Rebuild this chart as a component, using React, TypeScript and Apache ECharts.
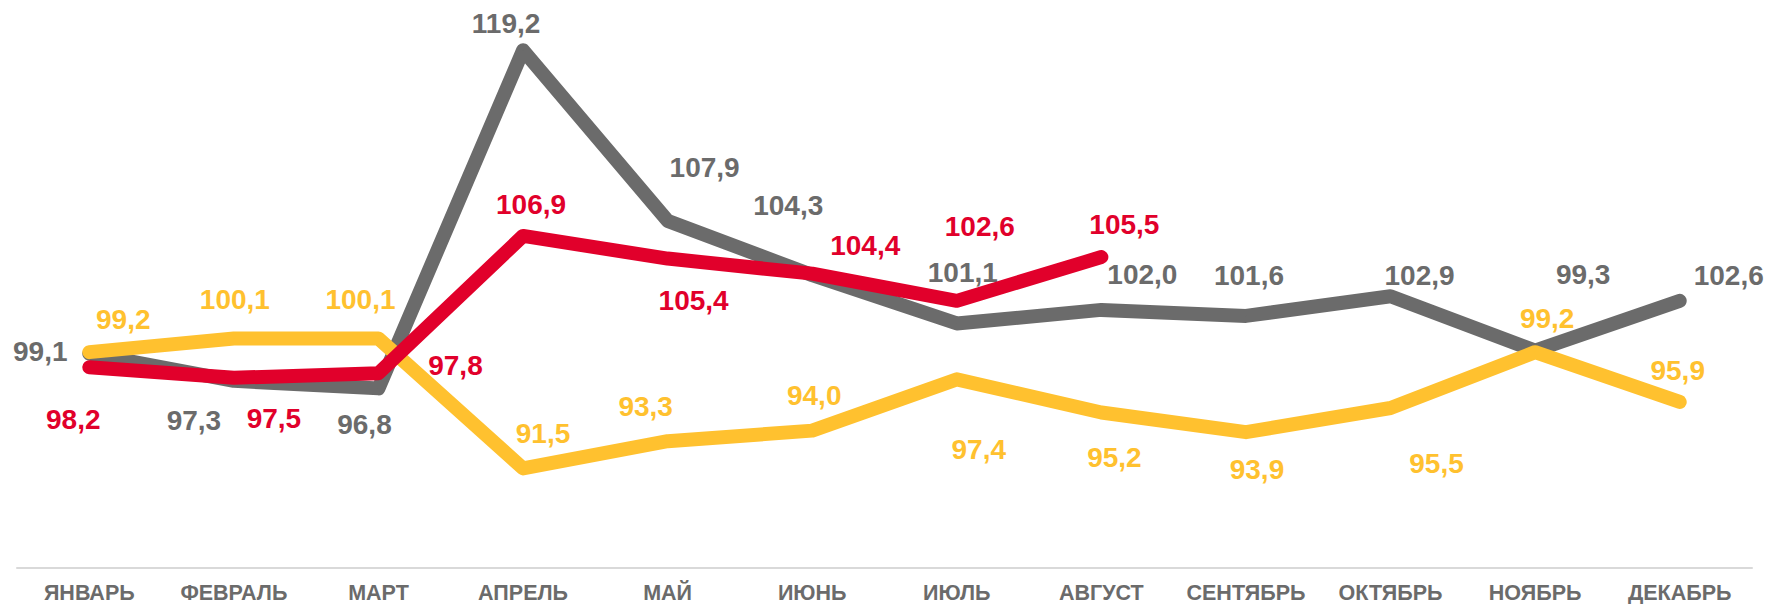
import React, { useEffect, useRef } from "react";
import * as echarts from "echarts";

const categories = ["ЯНВАРЬ", "ФЕВРАЛЬ", "МАРТ", "АПРЕЛЬ", "МАЙ", "ИЮНЬ", "ИЮЛЬ", "АВГУСТ", "СЕНТЯБРЬ", "ОКТЯБРЬ", "НОЯБРЬ", "ДЕКАБРЬ"];
const grayValues = [99.1, 97.3, 96.8, 119.2, 107.9, 104.3, 101.1, 102.0, 101.6, 102.9, 99.3, 102.6];
const yellowValues = [99.2, 100.1, 100.1, 91.5, 93.3, 94.0, 97.4, 95.2, 93.9, 95.5, 99.2, 95.9];
const redValues = [98.2, 97.5, 97.8, 106.9, 105.4, 104.4, 102.6, 105.5];

// label offsets (px) relative to each point
const grayOffsets = [[-49, -2], [-40, 40], [-14, 36], [-17, -27], [37, -53], [-24, -70], [6, -51], [41, -35], [3, -40], [29, -21], [48, -76], [49, -25]];
const yellowOffsets = [[34, -33], [1, -39], [-18, -39], [20, -35], [-22, -35], [2, -35], [22, 70], [13, 45], [11, 37], [46, 55], [12, -34], [-2, -31]];
const redOffsets = [[-16, 52], [40, 41], [77, -8], [8, -31], [26, 42], [53, -28], [23, -74], [23, -33]];

const GRAY = "#6b6b6b";
const YELLOW = "#ffc12f";
const RED = "#e1002b";

const fmt = (v: number) => v.toFixed(1).replace(".", ",");

function makeSeries(name: string, values: number[], offsets: number[][], color: string, z: number) {
  return {
    name,
    type: "line",
    z,
    symbol: "circle",
    symbolSize: 1,
    itemStyle: { color },
    lineStyle: { color, width: 14, cap: "round", join: "round" },
    data: values.map((v, i) => ({
      value: v,
      label: { offset: offsets[i] },
    })),
    label: {
      show: true,
      position: "inside",
      align: "center",
      verticalAlign: "middle",
      color,
      fontFamily: "Liberation Sans, Arial, sans-serif",
      fontWeight: "bold",
      fontSize: 28,
      formatter: (p: any) => fmt(p.value),
    },
  };
}

export default function App() {
  const ref = useRef<HTMLDivElement>(null);
  useEffect(() => {
    if (!ref.current) return;
    const chart = echarts.init(ref.current, null, { renderer: "svg" });
    chart.setOption({
      animation: false,
      backgroundColor: "#ffffff",
      grid: { left: 17, right: 20, top: 8, bottom: 36, containLabel: false },
      xAxis: {
        type: "category",
        data: categories,
        boundaryGap: true,
        axisLine: { show: true, lineStyle: { color: "#d9d9d9", width: 2 } },
        axisTick: { show: false },
        axisLabel: {
          color: GRAY,
          fontFamily: "Liberation Sans, Arial, sans-serif",
          fontWeight: "bold",
          fontSize: 21.5,
          margin: 14,
          interval: 0,
        },
      },
      yAxis: {
        type: "value",
        min: 84.9,
        max: 122,
        show: false,
        splitLine: { show: false },
      },
      series: [
        makeSeries("gray", grayValues, grayOffsets, GRAY, 1),
        makeSeries("yellow", yellowValues, yellowOffsets, YELLOW, 2),
        makeSeries("red", redValues, redOffsets, RED, 3),
      ],
    });
    return () => chart.dispose();
  }, []);
  return <div ref={ref} style={{ width: 1772, height: 604, position: "absolute", left: 0, top: 0 }} />;
}
